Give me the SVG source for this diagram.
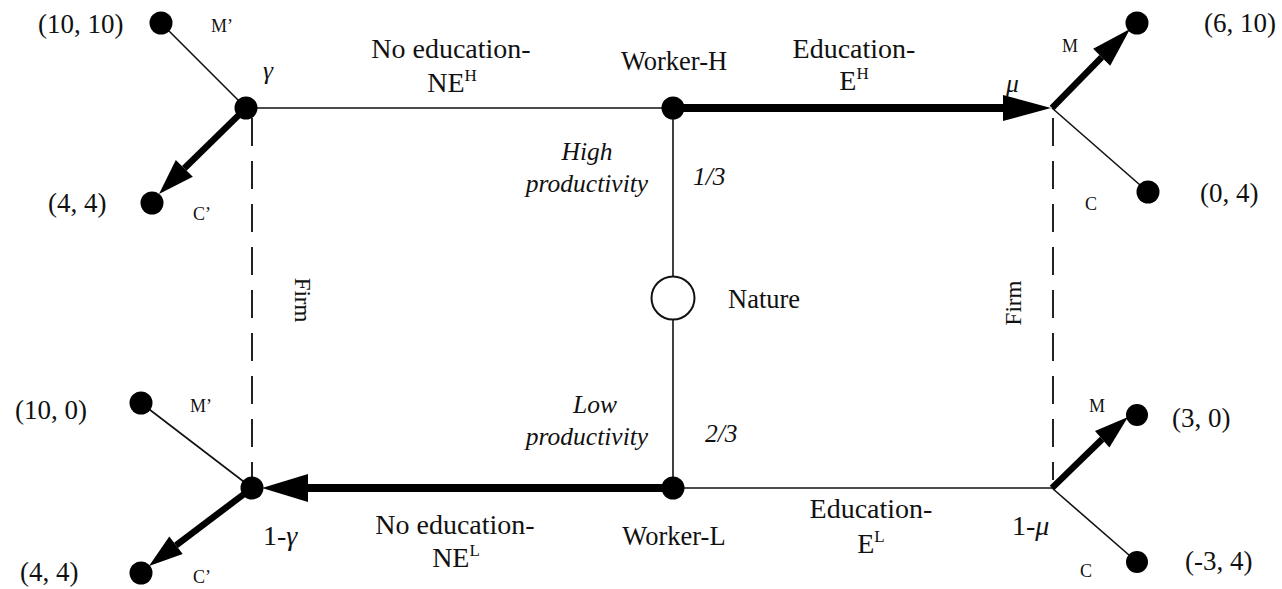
<svg xmlns="http://www.w3.org/2000/svg" width="1282" height="589" viewBox="0 0 1282 589">
<style>
text{font-family:"Liberation Serif","Times New Roman",serif;fill:#111}
.pay{font-size:27px}
.lab{font-size:28px}
.wk{font-size:26.5px}
.sm{font-size:18px}
.it{font-style:italic;font-size:25.5px}
.sup{font-size:17px}
.thin{stroke:#111;stroke-width:1.6;fill:none}
.thick{stroke:#000;stroke-width:8;fill:none}
.diag{stroke:#000;stroke-width:6.5;fill:none}
.dash{stroke:#222;stroke-width:2;stroke-dasharray:28 15;fill:none}
.dot{fill:#000}
.head{fill:#000}
</style>
<rect width="1282" height="589" fill="#fff"/>
<g id="connectors">
<line class="thin" x1="246" y1="108" x2="673" y2="108"/>
<line class="thick" x1="673" y1="108" x2="1006" y2="108"/>
<polygon class="head" points="1051,108 1003,95 1003,121"/>
<line class="thin" x1="673" y1="108" x2="673" y2="277"/>
<line class="thin" x1="673" y1="319" x2="673" y2="488"/>
<line class="thin" x1="673" y1="488" x2="1052" y2="488"/>
<line class="thick" x1="305" y1="488" x2="673" y2="488"/>
<polygon class="head" points="262,488 308,474 308,502"/>
<line class="thin" x1="246" y1="108" x2="161" y2="23"/>
<line class="diag" x1="246" y1="108" x2="184.3" y2="168.4"/>
<polygon class="head" points="159,194 192.8,176.8 175.8,160"/>
<line class="diag" x1="1052" y1="108" x2="1101.7" y2="57.3"/>
<polygon class="head" points="1130,29 1110.2,65.8 1093.2,48.8"/>
<line class="thin" x1="1052" y1="108" x2="1148" y2="192"/>
<line class="thin" x1="252" y1="488" x2="141" y2="403"/>
<line class="diag" x1="252" y1="488" x2="176" y2="545.3"/>
<polygon class="head" points="149,566 182.7,554 169.3,536.6"/>
<line class="diag" x1="1052" y1="488" x2="1102.2" y2="439.2"/>
<polygon class="head" points="1128,417 1109.4,447.6 1095,430.9"/>
<line class="thin" x1="1052" y1="488" x2="1137" y2="562"/>
<line class="dash" x1="252" y1="118" x2="252" y2="478"/>
<line class="dash" x1="1053" y1="118" x2="1053" y2="480"/>
</g>
<g id="node-gamma-top">
<circle class="dot" cx="246" cy="108" r="11.5"/>
<text class="it" x="263" y="79">γ</text>
<text class="sm" x="211" y="32">M’</text>
<text class="sm" x="193" y="220">C’</text>
</g>
<g id="node-payoff-10-10">
<circle class="dot" cx="161" cy="23" r="11.5"/>
<text class="pay" x="38" y="33">(10, 10)</text>
</g>
<g id="node-payoff-4-4-top">
<circle class="dot" cx="152" cy="203" r="11.5"/>
<text class="pay" x="48" y="212">(4, 4)</text>
</g>
<g id="node-worker-h">
<circle class="dot" cx="673" cy="108" r="11.5"/>
<text class="wk" x="674" y="70" text-anchor="middle">Worker-H</text>
</g>
<g id="edge-labels-top">
<text class="lab" x="451" y="58" text-anchor="middle">No education-</text>
<text class="lab" x="452" y="92" text-anchor="middle">NE<tspan class="sup" dy="-11">H</tspan></text>
<text class="lab" x="854" y="58" text-anchor="middle">Education-</text>
<text class="lab" x="854" y="90" text-anchor="middle">E<tspan class="sup" dy="-11">H</tspan></text>
<text class="it" x="587" y="160" text-anchor="middle">High</text>
<text class="it" x="587" y="192" text-anchor="middle">productivity</text>
<text class="it" x="693" y="185">1/3</text>
</g>
<g id="node-mu-top">
<text class="it" x="1006" y="92">μ</text>
<text class="sm" x="1062" y="52">M</text>
<text class="sm" x="1085" y="210">C</text>
</g>
<g id="node-payoff-6-10">
<circle class="dot" cx="1137" cy="23" r="11.5"/>
<text class="pay" x="1204" y="32">(6, 10)</text>
</g>
<g id="node-payoff-0-4">
<circle class="dot" cx="1148" cy="192" r="11.5"/>
<text class="pay" x="1200" y="202">(0, 4)</text>
</g>
<g id="node-nature">
<circle cx="673" cy="298" r="21.5" fill="#fff" stroke="#111" stroke-width="2"/>
<text class="wk" x="728" y="308">Nature</text>
</g>
<g id="firm-labels">
<text x="302" y="300" font-size="23" text-anchor="middle" dominant-baseline="central" transform="rotate(90 302 300)">Firm</text>
<text x="1013" y="303" font-size="23" text-anchor="middle" dominant-baseline="central" transform="rotate(-90 1013 303)">Firm</text>
</g>
<g id="node-gamma-bottom">
<circle class="dot" cx="252" cy="488" r="11.5"/>
<text class="lab" x="263" y="545">1-<tspan font-style="italic">γ</tspan></text>
<text class="sm" x="190" y="412">M’</text>
<text class="sm" x="193" y="583">C’</text>
</g>
<g id="node-payoff-10-0">
<circle class="dot" cx="141" cy="403" r="11.5"/>
<text class="pay" x="15" y="419">(10, 0)</text>
</g>
<g id="node-payoff-4-4-bottom">
<circle class="dot" cx="141" cy="573" r="11.5"/>
<text class="pay" x="20" y="581">(4, 4)</text>
</g>
<g id="node-worker-l">
<circle class="dot" cx="673" cy="488" r="11.5"/>
<text class="wk" x="674" y="545" text-anchor="middle">Worker-L</text>
</g>
<g id="edge-labels-bottom">
<text class="lab" x="455" y="534" text-anchor="middle">No education-</text>
<text class="lab" x="456" y="567" text-anchor="middle">NE<tspan class="sup" dy="-11">L</tspan></text>
<text class="lab" x="871" y="518" text-anchor="middle">Education-</text>
<text class="lab" x="871" y="553" text-anchor="middle">E<tspan class="sup" dy="-11">L</tspan></text>
<text class="it" x="595" y="413" text-anchor="middle">Low</text>
<text class="it" x="587" y="445" text-anchor="middle">productivity</text>
<text class="it" x="705" y="442">2/3</text>
</g>
<g id="node-mu-bottom">
<text class="lab" x="1012" y="535">1-<tspan font-style="italic">μ</tspan></text>
<text class="sm" x="1089" y="412">M</text>
<text class="sm" x="1080" y="577">C</text>
</g>
<g id="node-payoff-3-0">
<circle class="dot" cx="1137" cy="415" r="11"/>
<text class="pay" x="1172" y="427">(3, 0)</text>
</g>
<g id="node-payoff-m3-4">
<circle class="dot" cx="1137" cy="562" r="11"/>
<text class="pay" x="1185" y="570">(-3, 4)</text>
</g>
</svg>
